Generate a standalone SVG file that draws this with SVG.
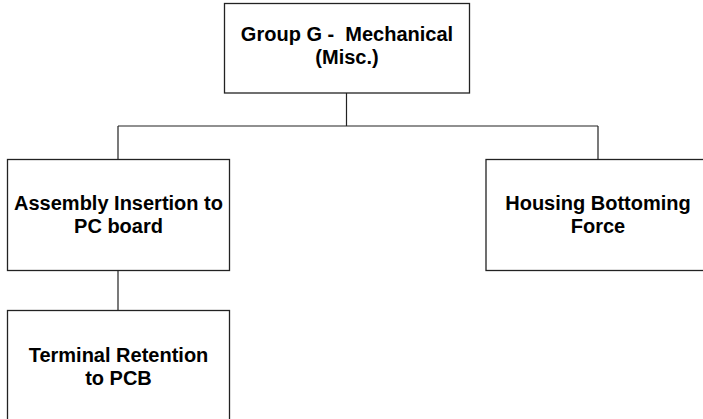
<svg xmlns="http://www.w3.org/2000/svg" width="703" height="419" viewBox="0 0 703 419">
<style>
.box{fill:#fff;stroke:#222;stroke-width:1.3}
.lbl{font-family:"Liberation Sans",Arial,sans-serif;font-weight:bold;font-size:20px;fill:#000;text-anchor:middle;white-space:pre}
.con{stroke:#222;stroke-width:1.2;fill:none}
</style>
<rect width="703" height="419" fill="#fff"/>
<g id="connectors">
<path class="con" d="M346.5,93 V126 M118,126 H598 M118,126 V159 M598,126 V159 M118,271 V310"/>
</g>
<g id="node-group-g">
<rect class="box" x="224.5" y="3.5" width="245" height="89.5"/>
<text class="lbl" x="347" y="41" xml:space="preserve">Group G -  Mechanical</text>
<text class="lbl" x="347" y="64">(Misc.)</text>
</g>
<g id="node-assembly">
<rect class="box" x="7.5" y="159.5" width="222" height="111"/>
<text class="lbl" x="118.5" y="210">Assembly Insertion to</text>
<text class="lbl" x="118.5" y="233">PC board</text>
</g>
<g id="node-housing">
<rect class="box" x="486" y="159.5" width="224" height="111"/>
<text class="lbl" x="598" y="210">Housing Bottoming</text>
<text class="lbl" x="598" y="233">Force</text>
</g>
<g id="node-terminal">
<rect class="box" x="7.5" y="310.5" width="222" height="120"/>
<text class="lbl" x="118.5" y="362">Terminal Retention</text>
<text class="lbl" x="118.5" y="385">to PCB</text>
</g>
</svg>
